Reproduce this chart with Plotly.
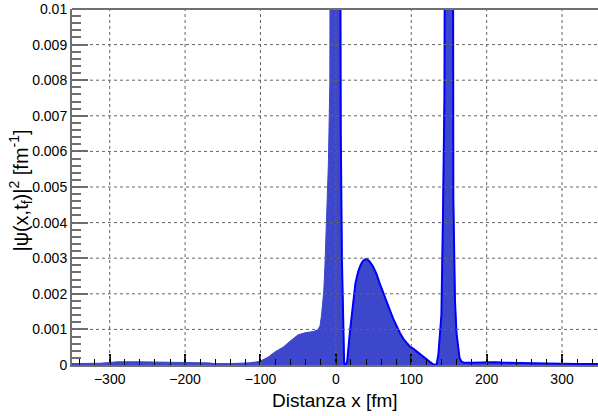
import plotly.graph_objects as go

# Histogram contents |psi(x,t_f)|^2 (values above 0.01 are clipped by the axis)
x_vals = [-350, -330, -313, -300, -290, -260, -240, -230, -200, -170, -160, -140, -130, -115, -101,
          -90, -80, -70, -60, -50, -40, -30, -24, -21, -19, -16, -14.5, -12.5, -10, -8, -7,
          5, 6.5, 8, 9.5, 11, 13, 15, 18.5, 23, 26, 29.5, 33, 36, 39, 41.5, 45, 49.5, 54, 58,
          62, 67, 72, 76, 80, 85, 90, 94, 98, 102.5, 107, 111.5, 116, 120, 125, 129, 133.5,
          136, 138, 140, 142, 144, 145.5, 155, 155.8, 158, 160, 162, 164, 166.5, 170, 180,
          190, 200, 210, 220, 240, 260, 280, 300, 320, 350]
y_vals = [0.00004, 0.00004, 0.00005, 0.00007, 0.00009, 0.00009, 0.00009, 0.00008, 0.00007, 0.00006,
          0.00004, 0.00004, 0.00005, 0.00006, 0.00010,
          0.00022, 0.00038, 0.00050, 0.00068, 0.00085, 0.00091, 0.00094, 0.00099, 0.00110,
          0.00140, 0.00210, 0.00280, 0.00400, 0.00560, 0.00790, 0.02,
          0.02, 0.0065, 0.0030, 0.0008, 0.00005, 0.0, 0.00010, 0.00090, 0.00180, 0.00230,
          0.00262, 0.00282, 0.00292, 0.00297, 0.00297, 0.00290, 0.00276, 0.00255, 0.00230,
          0.00206, 0.00178, 0.00152, 0.00130, 0.00110, 0.00090, 0.00072, 0.00062, 0.00052,
          0.00046, 0.00038, 0.00031, 0.00024, 0.00016, 0.00008, 0.00002, 0.0,
          0.00030, 0.00090, 0.00140, 0.00410, 0.00750, 0.02, 0.02, 0.00470, 0.00180, 0.00090,
          0.00050, 0.00020, 0.00010, 0.00006, 0.00006,
          0.00007, 0.00009, 0.00008, 0.00007, 0.00005, 0.00005, 0.00004, 0.00003, 0.00003, 0.00003]

# part of the distribution that is also drawn with an outline
outline_from = 5

x_ticks = [-300, -200, -100, 0, 100, 200, 300]
y_ticks = [0.001, 0.002, 0.003, 0.004, 0.005, 0.006, 0.007, 0.008, 0.009]

x_title = "Distanza x [fm]"
y_title = "|ψ(x,t<sub>f</sub>)|<sup>2</sup> [fm<sup>-1</sup>]"

FILL = "rgb(61,71,204)"
LINE = "rgb(0,0,255)"
AX = "rgb(112,112,112)"
FONT = "Liberation Sans, Arial, sans-serif"

fig = go.Figure()
fig.add_trace(go.Scatter(x=x_vals, y=y_vals, mode="lines", fill="tozeroy",
                         fillcolor=FILL, line=dict(color=FILL, width=1),
                         hoverinfo="skip", showlegend=False))
ox = [x for x in x_vals if x >= outline_from]
oy = [y for x, y in zip(x_vals, y_vals) if x >= outline_from]
fig.add_trace(go.Scatter(x=ox, y=oy, mode="lines", line=dict(color=LINE, width=2),
                         hoverinfo="skip", showlegend=False))

shapes = []
for xv in x_ticks:
    shapes.append(dict(type="line", xref="x", yref="paper", x0=xv, x1=xv, y0=0, y1=1,
                       line=dict(color="rgb(100,100,100)", width=1, dash="dot"), layer="above"))
for yv in y_ticks:
    shapes.append(dict(type="line", xref="paper", yref="y", x0=0, x1=1, y0=yv, y1=yv,
                       line=dict(color="rgb(100,100,100)", width=1, dash="dot"), layer="above"))
shapes.append(dict(type="line", xref="paper", yref="paper", x0=0, x1=1, y0=1, y1=1,
                   line=dict(color=AX, width=2), layer="above"))

fig.update_layout(
    width=598, height=416,
    margin=dict(l=72, r=0, t=9, b=51),
    paper_bgcolor="white", plot_bgcolor="white",
    font=dict(family=FONT, size=14, color="black"),
    shapes=shapes,
    xaxis=dict(range=[-350, 347.7], tickvals=x_ticks, ticks="inside", ticklen=11,
               tickwidth=1.5, tickcolor="black", showgrid=False, zeroline=False,
               showline=True, linecolor=AX, linewidth=2,
               minor=dict(dtick=20, tick0=0, ticks="inside", ticklen=6, tickwidth=1,
                          tickcolor="black", showgrid=False),
               tickfont=dict(size=14), layer="above traces"),
    yaxis=dict(range=[0, 0.01], dtick=0.001, tick0=0, ticks="inside", ticklen=16,
               tickwidth=2, tickcolor=AX, showgrid=False, zeroline=False,
               showline=True, linecolor=AX, linewidth=2,
               minor=dict(dtick=0.0002, ticks="inside", ticklen=9, tickwidth=1.5,
                          tickcolor=AX, showgrid=False),
               tickfont=dict(size=14), layer="above traces"),
    annotations=[
        dict(text=x_title, xref="paper", yref="paper", x=0.5, y=-0.101,
             xanchor="center", yanchor="middle", showarrow=False,
             font=dict(size=19, family=FONT)),
        dict(text=y_title, xref="paper", yref="paper", x=-0.097, y=0.49,
             xanchor="center", yanchor="middle", textangle=-90, showarrow=False,
             font=dict(size=20, family=FONT)),
    ],
)

fig.write_html("out.html", config={"displayModeBar": False},
               post_script="document.body.style.margin='0';document.body.style.overflow='hidden';")
